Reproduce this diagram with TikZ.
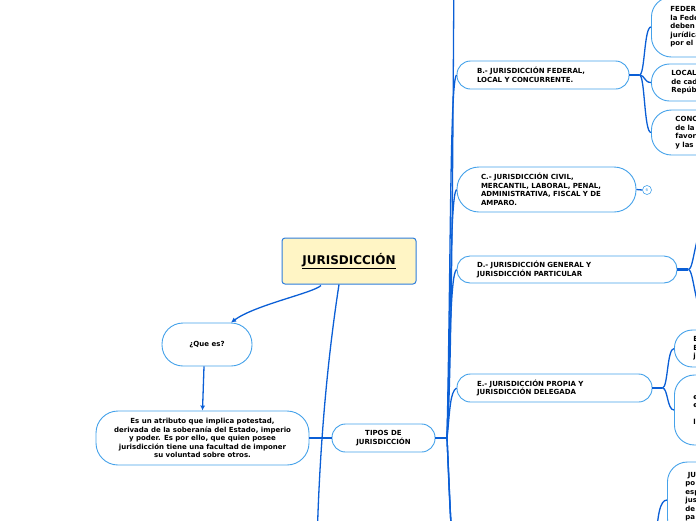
\documentclass[tikz,border=0pt]{standalone}
\usepackage{fontspec}
\setmainfont{DejaVu Sans}
\usetikzlibrary{arrows.meta,calc}
\definecolor{conn}{HTML}{0B5FD6}
\definecolor{bord}{HTML}{45A2EA}
\definecolor{ttl}{HTML}{FFF5C5}
\definecolor{ttlb}{HTML}{2D7DDC}
\begin{document}
\begin{tikzpicture}[x=1pt,y=-1pt,
  mbox/.style={draw=bord, line width=0.9pt, fill=white, inner sep=0pt,
    font=\fontsize{7}{8.5}\selectfont\bfseries},
  link/.style={draw=conn, line width=1.3pt},
  stub/.style={draw=conn, line width=2.4pt},
  arr/.style={link, -{Latex[length=5pt,width=5pt]}}
]
\useasboundingbox (0,0) rectangle (696,520);
\clip (0,0) rectangle (696,520);

% central node
\node[draw=ttlb, line width=1pt, fill=ttl, rounded corners=3pt,
  minimum width=134pt, minimum height=46pt, inner sep=0pt,
  font=\fontsize{12}{14}\selectfont\bfseries] (title) at (349,261) {\underline{JURISDICCIÓN}};

% left side
\node[mbox, rounded corners=21pt, minimum width=90pt, minimum height=43pt] (que) at (207,344.5) {¿Que es?};
\node[mbox, rounded corners=22pt, minimum width=213pt, minimum height=54pt, align=center] (def) at (202.5,438)
  {Es un atributo que implica potestad,\\derivada de la soberanía del Estado, imperio\\y poder. Es por ello, que quien posee\\jurisdicción tiene una facultad de imponer\\su voluntad sobre otros.};
\node[mbox, rounded corners=13.5pt, minimum width=103pt, minimum height=28pt, align=center] (tipos) at (383.5,438) {TIPOS DE\\JURISDICCIÓN};

% types
\node[mbox, rounded corners=13.5pt, minimum width=172pt, minimum height=28pt, text width=132pt, align=left] (B) at (543,75)
  {B.- JURISDICCIÓN FEDERAL,\\LOCAL Y CONCURRENTE.};
\node[mbox, rounded corners=22pt, minimum width=179pt, minimum height=45pt, text width=131pt, align=left] (C) at (546.5,189.5)
  {C.- JURISDICCIÓN CIVIL,\\MERCANTIL, LABORAL, PENAL,\\ADMINISTRATIVA, FISCAL Y DE\\AMPARO.};
\node[mbox, rounded corners=13pt, minimum width=220pt, minimum height=27pt, text width=180pt, align=left] (D) at (567,269.5)
  {D.- JURISDICCIÓN GENERAL Y\\JURISDICCIÓN PARTICULAR};
\node[mbox, rounded corners=13.5pt, minimum width=195pt, minimum height=28pt, text width=155pt, align=left] (E) at (554.5,388)
  {E.- JURISDICCIÓN PROPIA Y\\JURISDICCIÓN DELEGADA};

% right (clipped) nodes
\node[mbox, anchor=west, rounded corners=20pt, minimum width=200pt, minimum height=60pt, text width=162pt, align=left] (F) at (651,27)
  {FEDERAL\\la Federación\\deben\\jurídica\\por el};
\node[mbox, anchor=west, rounded corners=18pt, minimum width=200pt, minimum height=37pt, text width=160pt, align=left] (L) at (651,82.5)
  {LOCAL\\de cada\\República};
\node[mbox, anchor=west, rounded corners=20pt, minimum width=200pt, minimum height=45pt, text width=152pt, align=left] (CC) at (651,132.5)
  {CONC\\de la\\favor\\y las};
\node[mbox, anchor=west, rounded corners=18pt, minimum width=200pt, minimum height=37pt, text width=162pt, align=left] (I1) at (674,348.5)
  {Es\\Es\\ju};
\node[mbox, anchor=west, rounded corners=20pt, minimum width=200pt, minimum height=70pt, text width=162pt, align=left] (I2) at (674,410)
  {es\\es\\\mbox{}\\la};
\node[mbox, anchor=west, rounded corners=20pt, minimum width=200pt, minimum height=76pt, text width=164pt, align=left] (BR) at (667,500)
  {\ JU\\po\\esp\\jus\\de\\pa\\\mbox{}};

% collapsed marker
\node[draw=bord, line width=0.6pt, circle, minimum size=9pt, inner sep=0pt, fill=white,
  text=bord, font=\fontsize{4}{4}\selectfont] (cm) at (647,190) {6};

% free ends
\coordinate (down1) at (317,545);
\coordinate (J) at (447,438);
\coordinate (topA) at (454,-30);
\coordinate (bot1) at (457,560);
\coordinate (bot2) at (459,600);
\coordinate (bot3) at (461,650);
\coordinate (dA) at (706,226);
\coordinate (dB) at (706,316);
\coordinate (brj) at (656,548);

% connectors from title
\draw[arr] ($(title.south)+(-28,1)$) .. controls (313,293) and (255,305) .. ($(que.north)+(24,0)$);
\draw[link] ($(title.south)+(-10,0)$) .. controls (332,330) and (320,420) .. (down1);
\draw[arr] ($(que.south)+(-3,0)$) -- (def.north);
\draw[link] (def.east) -- (tipos.west);

% trunk
\draw[stub] (tipos.east) -- (J);
\draw[link] (J) .. controls (452,380) and (453,100) .. (topA);
\draw[link] (J) .. controls (451,250) and (450,80) .. (B.west);
\draw[link] (J) .. controls (451,320) and (450,195) .. (C.west);
\draw[link] (J) .. controls (450,360) and (450,274) .. (D.west);
\draw[link] (J) .. controls (450,410) and (450,392) .. (E.west);
\draw[link] (J) .. controls (449,480) and (450,545) .. (bot1);
\draw[link] (J) .. controls (450,500) and (452,580) .. (bot2);
\draw[link] (J) .. controls (451,520) and (454,620) .. (bot3);

% B children
\draw[stub] (B.east) -- ++(10,0) coordinate (Bj);
\draw[link] (Bj) .. controls (645,75) and (644,27) .. (F.west);
\draw[link] (Bj) .. controls (645,75) and (644,82.5) .. (L.west);
\draw[link] (Bj) .. controls (645,75) and (644,132.5) .. (CC.west);

% C collapsed
\draw[link] (C.east) -- (cm.west);

% D children
\draw[stub] (D.east) -- ++(11,0) coordinate (Dj);
\draw[link] (Dj) .. controls (694,270) and (695,228) .. (dA);
\draw[link] (Dj) .. controls (694,270) and (695,314) .. (dB);

% E children
\draw[stub] (E.east) -- ++(10,0) coordinate (Ej);
\draw[link] (Ej) .. controls (668,388) and (667,348.5) .. (I1.west);
\draw[link] (Ej) .. controls (668,388) and (667,410) .. (I2.west);

% bottom-right
\draw[link] (brj) .. controls (657,515) and (660,500) .. (BR.west);
\end{tikzpicture}
\end{document}
